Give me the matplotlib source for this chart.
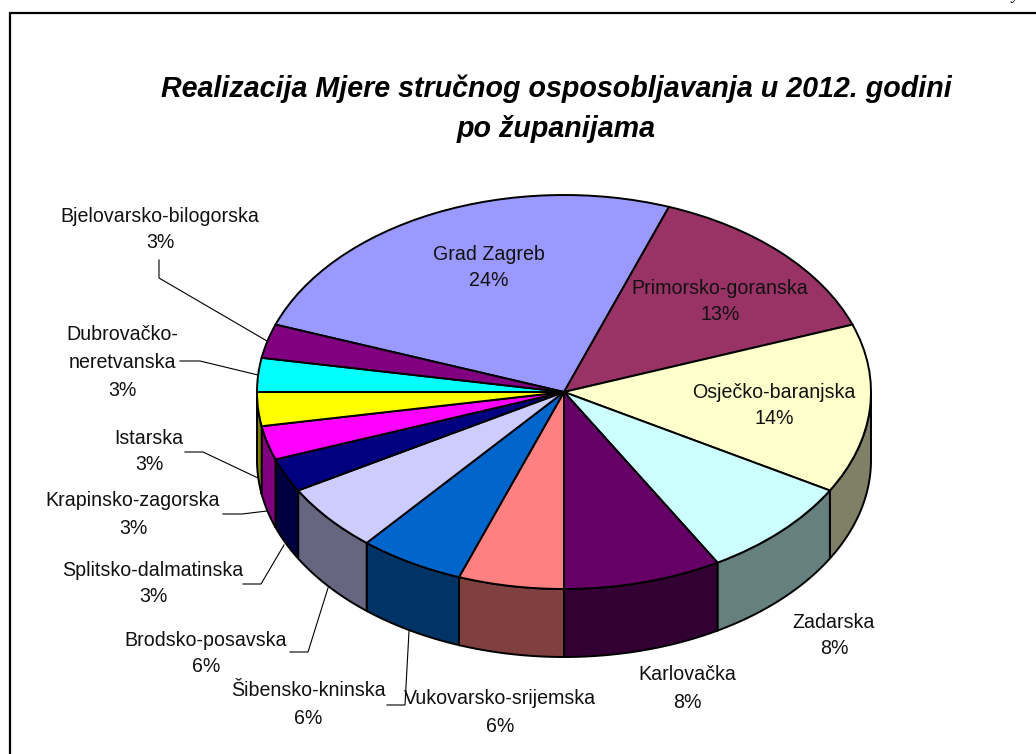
import numpy as np
import matplotlib
matplotlib.use('Agg')
import matplotlib.pyplot as plt
from matplotlib.colors import to_rgb

plt.rcParams['font.family'] = ['Liberation Sans', 'DejaVu Sans']

# clockwise from the Grad Zagreb slice
counties = ['Grad Zagreb', 'Primorsko-goranska', 'Osječko-baranjska', 'Zadarska',
            'Karlovačka', 'Vukovarsko-srijemska', 'Šibensko-kninska', 'Brodsko-posavska',
            'Splitsko-dalmatinska', 'Krapinsko-zagorska', 'Istarska',
            'Dubrovačko-\nneretvanska', 'Bjelovarsko-bilogorska']
slice_sizes = [18, 10, 10, 6, 6, 4, 4, 4, 2, 2, 2, 2, 2]
percent_labels = ['24%', '13%', '14%', '8%', '8%', '6%', '6%', '6%', '3%', '3%', '3%', '3%', '3%']
colors = ['#9999FF', '#993366', '#FFFFCC', '#CCFFFF', '#660066', '#FF8080', '#0066CC',
          '#CCCCFF', '#000080', '#FF00FF', '#FFFF00', '#00FFFF', '#800080']

label_x = [489, 720, 774, 834, 687, 500, 308, 206, 153, 133, 149, 122, 160]
label_y = [252, 286, 390, 620, 673, 697, 689, 638, 568, 499, 436, 333, 214]

leaders = {
    'Bjelovarsko': ([159, 159, 267], [260, 278, 341]),
    'Dubrovacko': ([180, 200, 258], [361, 361, 375]),
    'Istarska': ([185, 203, 258], [452, 452, 478]),
    'Krapinsko': ([223, 242, 267], [514, 514, 511]),
    'Splitsko': ([243, 261, 284], [584, 584, 545]),
    'Brodsko': ([290, 308, 328], [652, 652, 588]),
    'Sibensko': ([387, 405, 409], [705, 705, 631]),
}

W, H = 1036, 754
cx, cy, rx, ry = 564, 392, 307, 197
depth = 68 / ry
start_from_top = -70

fig = plt.figure(figsize=(W / 100, H / 100), dpi=100, facecolor='white')

ax = fig.add_axes([0, 0, 1, 1])
ax.pie(slice_sizes, colors=colors, startangle=90 - start_from_top, counterclock=False,
       radius=1, wedgeprops={'edgecolor': 'black', 'linewidth': 1.4, 'zorder': 3})
ax.set_aspect('auto')
ax.set_xlim(-cx / rx, (W - cx) / rx)
ax.set_ylim((cy - H) / ry, cy / ry)
ax.axis('off')

# side wall of the cake, only the front half shows
edges = start_from_top + np.cumsum([0] + slice_sizes) * 360 / sum(slice_sizes)
for i, col in enumerate(colors):
    lo = max(edges[i], 90)
    hi = min(edges[i + 1], 270)
    if hi <= lo:
        continue
    th = np.radians(np.linspace(lo, hi, 40))
    x = np.sin(th)
    y = np.cos(th)
    ax.fill(np.r_[x, x[::-1]], np.r_[y, y[::-1] - depth],
            facecolor=np.array(to_rgb(col)) * 0.5, edgecolor='black', linewidth=1.4, zorder=2)

# overlay in pixel coordinates for page frame, text and leader lines
page = fig.add_axes([0, 0, 1, 1], facecolor='none')
page.set_xlim(0, W)
page.set_ylim(H, 0)
page.axis('off')

page.plot([10, 10, W], [H, 13, 13], color='black', lw=1.6, solid_joinstyle='miter')
page.text(1015, -5, 'y', family='Liberation Serif', style='italic', fontsize=12,
          ha='center', va='center', clip_on=False)

page.text(556, 89, 'Realizacija Mjere stručnog osposobljavanja u 2012. godini',
          fontsize=20.6, fontweight='bold', style='italic', ha='center', va='center')
page.text(556, 129, 'po županijama',
          fontsize=20.6, fontweight='bold', style='italic', ha='center', va='center')

for name, x0, y0, pct in zip(counties, label_x, label_y, percent_labels):
    lines = name.split('\n')
    for k, line in enumerate(lines):
        page.text(x0, y0 + 2 + k * 28, line, fontsize=14.1, ha='center', va='center', color='#111111')
    page.text(x0, y0 + 1 + len(lines) * 28, pct, fontsize=14.1, ha='center', va='center', color='#111111')

for xs, ys in leaders.values():
    page.plot(xs, ys, color='black', lw=0.8)

fig.savefig('out.png', dpi=100)
